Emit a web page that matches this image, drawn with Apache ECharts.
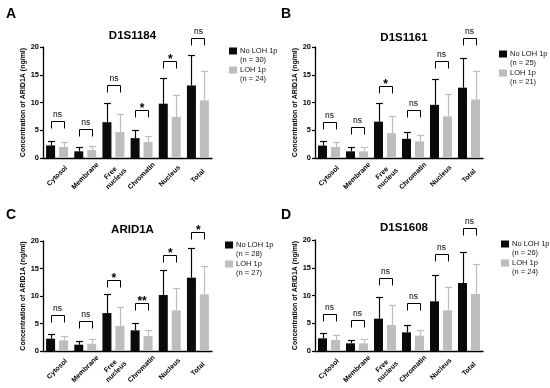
<!DOCTYPE html>
<html><head><meta charset="utf-8">
<script src="https://cdn.jsdelivr.net/npm/echarts@6/dist/echarts.min.js"></script>
<style>html,body{margin:0;padding:0;background:#fff}#c{width:550px;height:388px}</style>
</head><body><div id="c"></div>
<script>
// ---------- data ----------
const categories = ['Cytosol', 'Membrane', 'Free\nnucleus', 'Chromatin', 'Nucleus', 'Total'];
const yTicks = [0, 5, 10, 15, 20];
const panelLetters = ['A', 'B', 'C', 'D'];
const panelTitles = ['D1S1184', 'D1S1161', 'ARID1A', 'D1S1608'];
const yAxisName = 'Concentration of ARID1A (ng/ml)';
const noLohNames = [['No LOH 1p', '(n = 30)'], ['No LOH 1p', '(n = 25)'], ['No LOH 1p', '(n = 28)'], ['No LOH 1p', '(n = 26)']];
const lohNames = [['LOH 1p', '(n = 24)'], ['LOH 1p', '(n = 21)'], ['LOH 1p', '(n = 27)'], ['LOH 1p', '(n = 24)']];

// Panel A (D1S1184)
const aNoLoh = [2.27, 1.2, 6.45, 3.58, 9.79, 13.07];
const aNoLohUpper = [3.1, 1.95, 10.0, 5.0, 14.4, 18.5];
const aLoh = [2.0, 1.43, 4.66, 2.87, 7.4, 10.39];
const aLohUpper = [2.8, 2.15, 8.0, 3.9, 11.4, 15.6];
const aBracket = [6.6, 5.3, 13.1, 8.7, 17.5, 21.7];
const aSig = ['ns', 'ns', 'ns', '*', '*', 'ns'];

// Panel B (D1S1161)
const bNoLoh = [2.24, 1.2, 6.55, 3.45, 9.58, 12.67];
const bNoLohUpper = [3.0, 1.9, 10.0, 4.7, 14.2, 18.0];
const bLoh = [2.0, 1.2, 4.48, 3.0, 7.5, 10.55];
const bLohUpper = [2.85, 2.0, 7.6, 4.2, 11.45, 15.6];
const bBracket = [6.5, 5.5, 13.0, 8.6, 17.45, 21.6];
const bSig = ['ns', 'ns', '*', 'ns', 'ns', 'ns'];

// Panel C (ARID1A)
const cNoLoh = [2.24, 1.15, 6.9, 3.76, 10.18, 13.33];
const cNoLohUpper = [3.1, 1.9, 10.36, 5.15, 14.8, 18.7];
const cLoh = [1.94, 1.33, 4.55, 2.73, 7.4, 10.3];
const cLohUpper = [2.8, 2.2, 8.06, 3.76, 11.45, 15.5];
const cBracket = [6.6, 5.4, 13.0, 8.67, 17.5, 21.7];
const cSig = ['ns', 'ns', '*', '**', '*', '*'];

// Panel D (D1S1608)
const dNoLoh = [2.28, 1.38, 5.83, 3.36, 8.95, 12.25];
const dNoLohUpper = [3.2, 2.0, 9.7, 4.7, 13.75, 17.9];
const dLoh = [1.98, 1.38, 4.68, 2.76, 7.33, 10.27];
const dLohUpper = [2.88, 2.2, 8.3, 3.84, 11.6, 15.7];
const dBracket = [6.6, 5.5, 13.15, 8.65, 17.4, 22.1];
const dSig = ['ns', 'ns', 'ns', 'ns', 'ns', 'ns'];

// ---------- layout / style ----------
const FONT = '"Liberation Sans", Arial, Helvetica, sans-serif';
const BLACK = '#0a0a0a';
const GRAY = '#bdbdbd';
const BAR_W = 9;
const HALF_STEP = 6.5; // distance of each bar centre from category centre
const grids = [
  { left: 43, top: 47, width: 169, height: 111 },
  { left: 315, top: 47, width: 168, height: 111 },
  { left: 43, top: 241, width: 169, height: 110 },
  { left: 315, top: 240, width: 168, height: 111 }
];
const legendPos = [
  { x: 229, y: 51 }, { x: 499, y: 54 }, { x: 225, y: 245 }, { x: 501, y: 244 }
];
const letterPos = [{ x: 11, y: 15 }, { x: 286, y: 15 }, { x: 11, y: 216 }, { x: 286, y: 216 }];

const panels = [
  [aNoLoh, aNoLohUpper, aLoh, aLohUpper, aBracket, aSig],
  [bNoLoh, bNoLohUpper, bLoh, bLohUpper, bBracket, bSig],
  [cNoLoh, cNoLohUpper, cLoh, cLohUpper, cBracket, cSig],
  [dNoLoh, dNoLohUpper, dLoh, dLohUpper, dBracket, dSig]
];

function errRender(offset, color) {
  return function (params, api) {
    const i = api.value(0);
    const p0 = api.coord([i, api.value(1)]);
    const p1 = api.coord([i, api.value(2)]);
    const x = Math.round(p0[0] + offset) + 0.5;
    const yt = Math.round(p1[1]) + 0.5;
    return {
      type: 'group', children: [
        { type: 'line', shape: { x1: x, y1: p0[1], x2: x, y2: yt }, style: { stroke: color, lineWidth: 1.2 } },
        { type: 'line', shape: { x1: x - 3.5, y1: yt, x2: x + 3.5, y2: yt }, style: { stroke: color, lineWidth: 1.2 } }
      ]
    };
  };
}

function bracketRender(labels) {
  return function (params, api) {
    const i = api.value(0);
    const p = api.coord([i, api.value(1)]);
    const xl = Math.round(p[0] - HALF_STEP) + 0.5, xr = Math.round(p[0] + HALF_STEP) + 0.5;
    const y = Math.round(p[1]) + 0.5;
    const lab = labels[params.dataIndex];
    const star = lab !== 'ns';
    return {
      type: 'group', children: [
        { type: 'polyline', shape: { points: [[xl, y + 7], [xl, y], [xr, y], [xr, y + 7]] },
          style: { stroke: '#000', lineWidth: 1, fill: 'none' } },
        { type: 'text', style: {
            text: lab, x: p[0] + 0.5, y: star ? y + 4 : y - 2.5, align: 'center', verticalAlign: 'bottom',
            font: star ? 'bold 12px ' + FONT : '8.5px ' + FONT, fill: '#000' } }
      ]
    };
  };
}

const option = {
  animation: false,
  backgroundColor: '#fff',
  title: panelTitles.map((t, k) => ({
    text: t, left: grids[k].left + grids[k].width / 2, top: [25, 27, 219, 217][k], textAlign: 'center',
    textStyle: { fontFamily: FONT, fontWeight: 'bold', fontSize: 11.5, color: '#000' }
  })),
  grid: grids.map(g => Object.assign({ containLabel: false }, g)),
  xAxis: grids.map((g, k) => ({
    type: 'category', gridIndex: k, data: categories,
    axisLine: { lineStyle: { color: '#000', width: 1.3 } },
    axisTick: { show: false },
    axisLabel: {
      rotate: 45, align: 'center', verticalAlign: 'middle', margin: 18, interval: 0,
      fontFamily: FONT, fontWeight: 'bold', fontSize: 7, color: '#000', lineHeight: 8
    }
  })),
  yAxis: grids.map((g, k) => ({
    type: 'value', gridIndex: k, min: yTicks[0], max: yTicks[yTicks.length - 1], interval: 5,
    name: yAxisName, nameLocation: 'middle', nameGap: 15,
    nameTextStyle: { fontFamily: FONT, fontWeight: 'bold', fontSize: 7, color: '#000' },
    axisLine: { show: true, lineStyle: { color: '#000', width: 1.3 } },
    axisTick: { show: true, length: 3, lineStyle: { color: '#000', width: 1.2 } },
    axisLabel: { margin: 4, fontFamily: FONT, fontWeight: 'bold', fontSize: 7.5, color: '#000' },
    splitLine: { show: false }
  })),
  series: [],
  graphic: []
};

panels.forEach((p, k) => {
  const [noLoh, noLohUp, loh, lohUp, br, sig] = p;
  option.series.push(
    { type: 'bar', xAxisIndex: k, yAxisIndex: k, name: noLohNames[k].join(' '), data: noLoh,
      barWidth: BAR_W, barGap: '44%', itemStyle: { color: BLACK }, z: 3 },
    { type: 'bar', xAxisIndex: k, yAxisIndex: k, name: lohNames[k].join(' ') + ' ' + k, data: loh,
      barWidth: BAR_W, barGap: '44%', itemStyle: { color: GRAY }, z: 3 },
    { type: 'custom', xAxisIndex: k, yAxisIndex: k, renderItem: errRender(-HALF_STEP, BLACK),
      data: noLoh.map((v, i) => [i, v, noLohUp[i]]), z: 2 },
    { type: 'custom', xAxisIndex: k, yAxisIndex: k, renderItem: errRender(HALF_STEP, GRAY),
      data: loh.map((v, i) => [i, v, lohUp[i]]), z: 2 },
    { type: 'custom', xAxisIndex: k, yAxisIndex: k, renderItem: bracketRender(sig),
      data: br.map((v, i) => [i, v]), z: 4, clip: false }
  );
  const lp = legendPos[k];
  option.graphic.push(
    { type: 'text', left: letterPos[k].x - 5, top: letterPos[k].y - 8,
      style: { text: panelLetters[k], font: 'bold 14px ' + FONT, fill: '#000' } },
    { type: 'rect', shape: { x: lp.x, y: lp.y - 3.5, width: 8, height: 7 }, style: { fill: BLACK } },
    { type: 'text', x: lp.x + 11, y: lp.y, style: { text: noLohNames[k][0], font: '7.5px ' + FONT, fill: '#111', verticalAlign: 'middle' } },
    { type: 'text', x: lp.x + 11, y: lp.y + 9, style: { text: noLohNames[k][1], font: '7.5px ' + FONT, fill: '#111', verticalAlign: 'middle' } },
    { type: 'rect', shape: { x: lp.x, y: lp.y + 19 - 3.5, width: 8, height: 7 }, style: { fill: GRAY } },
    { type: 'text', x: lp.x + 11, y: lp.y + 19, style: { text: lohNames[k][0], font: '7.5px ' + FONT, fill: '#111', verticalAlign: 'middle' } },
    { type: 'text', x: lp.x + 11, y: lp.y + 28, style: { text: lohNames[k][1], font: '7.5px ' + FONT, fill: '#111', verticalAlign: 'middle' } }
  );
});

const chart = echarts.init(document.getElementById('c'), null, { renderer: 'canvas' });
chart.setOption(option);
</script>
</body></html>
